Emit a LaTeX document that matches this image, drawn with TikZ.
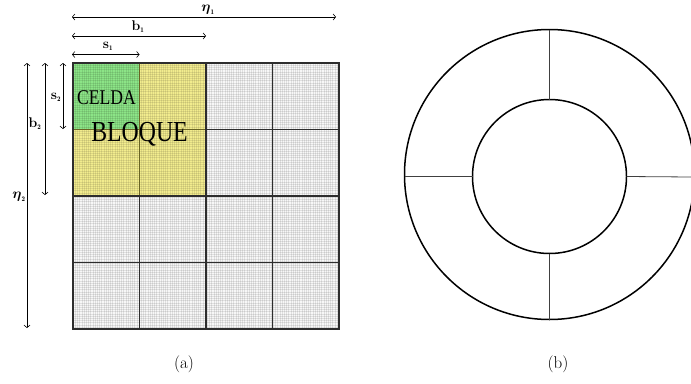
\documentclass[tikz,border=0pt]{standalone}
\usepackage{amsmath}
\usepackage{fontspec}
\usetikzlibrary{arrows.meta}
\newfontfamily\deco{Liberation Serif}
\definecolor{cellgreen}{RGB}{140,228,135}
\definecolor{cellyellow}{RGB}{242,236,142}
\definecolor{olive}{RGB}{105,100,35}
\definecolor{gridline}{RGB}{45,45,45}
\begin{document}
\begin{tikzpicture}[x=1pt,y=-1pt,
  dim/.style={{Straight Barb[length=2.5pt,width=6pt]}-{Straight Barb[length=2.5pt,width=6pt]}, line width=0.6pt, black},
  lab/.style={font=\fontsize{14}{15}\selectfont\bfseries, inner sep=0pt},
  ring/.style={draw, circle, line width=1.5pt, outer sep=0pt, inner sep=0pt},
  spoke/.style={line width=0.8pt, black!75},
  captext/.style={font=\fontsize{17}{20}\selectfont, inner sep=0pt}]
\useasboundingbox (0,0) rectangle (691,383);
\begin{scope}
\clip (0,0) rectangle (691,383);
% ---- (a) grid ----
\fill[black!3] (73,63) rectangle (339,329);
\fill[cellyellow] (73,63) rectangle (206,196);
\fill[cellgreen] (73,63) rectangle (139.5,129.5);
\foreach \i in {0,...,120} {
  \draw[black, opacity=0.09, line width=0.45pt] ({73+2.2*\i},63) -- ({73+2.2*\i},329);
  \draw[black, opacity=0.09, line width=0.45pt] (73,{63+2.2*\i}) -- (339,{63+2.2*\i});
}
\draw[olive, line width=1.6pt] (139.5,63) -- (139.5,196) (73,129.5) -- (206,129.5);
\draw[gridline, line width=1.5pt] (206,63) -- (206,329) (272.5,63) -- (272.5,329)
  (139.5,196) -- (139.5,329) (206,129.5) -- (339,129.5)
  (73,196) -- (339,196) (73,262.5) -- (339,262.5);
\draw[gridline, line width=1.5pt] (73,63) rectangle (339,329);
\node[inner sep=0pt] (celda) at (106.5,98) {\deco\fontsize{21}{22}\selectfont\scalebox{0.84}[1]{CELDA}};
\node[inner sep=0pt] (bloque) at (139.5,134) {\deco\fontsize{29}{30}\selectfont\scalebox{0.82}[1]{BLOQUE}};
% dimension arrows
\coordinate (h0a) at (72,17); \coordinate (h1a) at (336,17);
\coordinate (h0b) at (72,36); \coordinate (h1b) at (206,36);
\coordinate (h0c) at (72,54.5); \coordinate (h1c) at (139.5,54.5);
\draw[dim] (h0a) -- (h1a);
\draw[dim] (h0b) -- (h1b);
\draw[dim] (h0c) -- (h1c);
\node[lab] (n1) at (208,10) {$\boldsymbol{\eta}_{\scriptscriptstyle\mathbf{1}}$};
\node[lab] (b1) at (138,27) {b$_{\scriptscriptstyle\mathbf{1}}$};
\node[lab] (s1) at (108,46) {s$_{\scriptscriptstyle\mathbf{1}}$};
\coordinate (v0a) at (27,63); \coordinate (v1a) at (27,328);
\coordinate (v0b) at (45,63); \coordinate (v1b) at (45,195);
\coordinate (v0c) at (63,63); \coordinate (v1c) at (63,129);
\draw[dim] (v0a) -- (v1a);
\draw[dim] (v0b) -- (v1b);
\draw[dim] (v0c) -- (v1c);
\node[lab] (s2) at (56,97) {s$_{\scriptscriptstyle\mathbf{2}}$};
\node[lab] (b2) at (35,124) {b$_{\scriptscriptstyle\mathbf{2}}$};
\node[lab] (n2) at (19,197) {$\boldsymbol{\eta}_{\scriptscriptstyle\mathbf{2}}$};
% ---- (b) ring ----
\node[ring, minimum size=290pt] (outer) at (549.5,174.5) {};
\node[ring, minimum size=154pt] (inner) at (549.5,176.5) {};
\coordinate (rightedge) at (691,177);
\draw[spoke] (outer.north) -- (inner.north);
\draw[spoke] (inner.south) -- (outer.south);
\draw[spoke] (outer.west |- inner.west) -- (inner.west);
\draw[spoke] (inner.east) -- (rightedge);
\end{scope}
\node[captext] (capa) at (184,364) {(a)};
\node[captext] (capb) at (558,364) {(b)};
\end{tikzpicture}
\end{document}
